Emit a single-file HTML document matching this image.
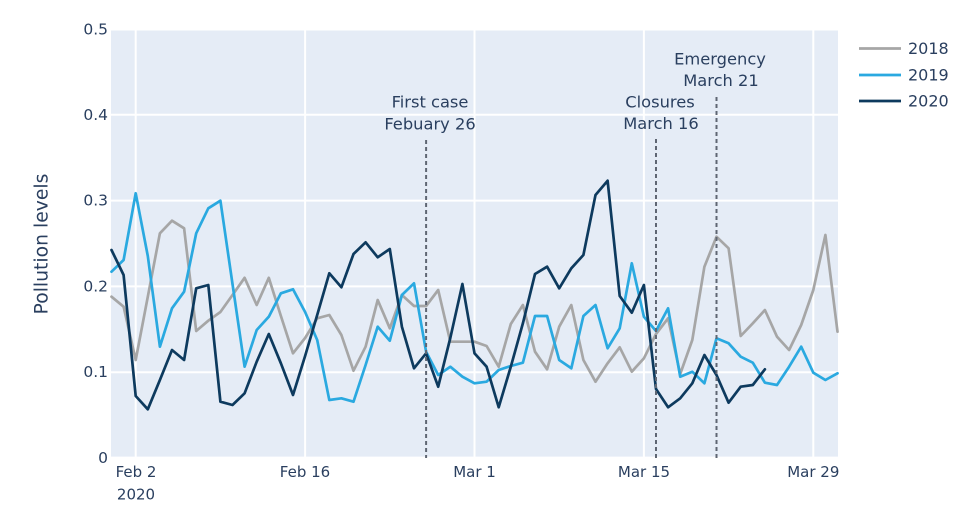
<!DOCTYPE html>
<html>
<head>
<meta charset="utf-8">
<style>
html,body{margin:0;padding:0;background:#fff;}
svg{display:block;}
text{font-family:"DejaVu Sans","Liberation Sans",sans-serif;fill:#2a3f5f;}
</style>
</head>
<body>
<svg width="973" height="505" viewBox="0 0 973 505" xmlns="http://www.w3.org/2000/svg">
  <!-- plot background -->
  <rect x="111" y="29" width="727" height="429.5" fill="#e5ecf6"/>
  <!-- horizontal grid -->
  <g stroke="#ffffff" stroke-width="2">
    <line x1="111" x2="838" y1="29.5" y2="29.5"/>
    <line x1="111" x2="838" y1="114.8" y2="114.8"/>
    <line x1="111" x2="838" y1="200.6" y2="200.6"/>
    <line x1="111" x2="838" y1="286.4" y2="286.4"/>
    <line x1="111" x2="838" y1="372.2" y2="372.2"/>
  </g>
  <!-- vertical grid -->
  <g stroke="#ffffff" stroke-width="2">
    <line x1="135.7" x2="135.7" y1="29" y2="458"/>
    <line x1="305.1" x2="305.1" y1="29" y2="458"/>
    <line x1="474.5" x2="474.5" y1="29" y2="458"/>
    <line x1="643.9" x2="643.9" y1="29" y2="458"/>
    <line x1="813.3" x2="813.3" y1="29" y2="458"/>
  </g>
  <line x1="111" x2="838" y1="458" y2="458" stroke="#ffffff" stroke-width="2.7"/>

  <!-- series -->
  <g fill="none" stroke-width="2.7" stroke-linejoin="round" stroke-linecap="round">
    <polyline stroke="#a6a6a6" points="111.5,296.7 123.6,306.7 135.7,360 147.8,296.7 159.9,233.3 172,220.7 184.1,228.3 196.2,331 208.3,320.7 220.4,312 232.5,295 244.6,277.8 256.7,305 268.8,277.8 280.9,316 293,353.3 305.1,338 317.2,318.3 329.3,315 341.4,335 353.5,370.7 365.6,346.7 377.7,300 389.8,328.3 401.9,295 414,306 426.1,306 438.2,290 450.3,341.7 462.4,341.7 474.5,341.7 486.6,346 498.7,366.7 510.8,324 522.9,305 535,351.7 547.1,369.3 559.2,326.7 571.3,305 583.4,360 595.5,381.7 607.6,363.3 619.7,347.3 631.8,371.7 643.9,358.3 656,334 668.1,318.3 680.2,374 692.3,340 704.4,266.7 716.5,236.7 728.6,248.3 740.7,336 752.8,323.3 764.9,310 777,336.7 789.1,350 801.2,325 813.3,290 825.4,235 837.5,331.7"/>
    <polyline stroke="#2aa9e0" points="111.5,271.7 123.6,260 135.7,193.3 147.8,256 159.9,346.7 172,308.3 184.1,291.7 196.2,233.3 208.3,208.3 220.4,200.7 232.5,284 244.6,366.7 256.7,330 268.8,316.7 280.9,293.3 293,289.3 305.1,312 317.2,340 329.3,400 341.4,398.3 353.5,401.7 365.6,365 377.7,326.7 389.8,340.7 401.9,295 414,283.3 426.1,351.7 438.2,375 450.3,366.7 462.4,376.7 474.5,383.3 486.6,381.7 498.7,370 510.8,366 522.9,362.7 535,316 547.1,316 559.2,360 571.3,368.3 583.4,316 595.5,305 607.6,348.3 619.7,328.3 631.8,263.3 643.9,316.7 656,331 668.1,308.3 680.2,376.7 692.3,371.7 704.4,383.3 716.5,338.3 728.6,343.3 740.7,356.7 752.8,362.7 764.9,382.7 777,385 789.1,366.7 801.2,346.7 813.3,372.7 825.4,380 837.5,373.3"/>
    <polyline stroke="#0d3a5e" points="111.5,250 123.6,275 135.7,396 147.8,409.3 159.9,380 172,350 184.1,360 196.2,288.3 208.3,285 220.4,401.7 232.5,405 244.6,393.3 256.7,361.7 268.8,334 280.9,363.3 293,395 305.1,356 317.2,315 329.3,273.3 341.4,287.3 353.5,254 365.6,242.3 377.7,257.3 389.8,249 401.9,326.7 414,368.3 426.1,353.3 438.2,386.7 450.3,338 462.4,284 474.5,353.3 486.6,366.7 498.7,407.3 510.8,366.7 522.9,323.3 535,274 547.1,266.7 559.2,288.3 571.3,268.3 583.4,255 595.5,195 607.6,180.7 619.7,296 631.8,312.7 643.9,285 656,389 668.1,407.3 680.2,398.3 692.3,383.3 704.4,355 716.5,375 728.6,402.7 740.7,386.7 752.8,385 764.9,369.3"/>
  </g>

  <!-- event lines -->
  <g stroke="#5f6673" stroke-width="2" stroke-dasharray="4,3">
    <line x1="426.1" x2="426.1" y1="140" y2="458"/>
    <line x1="656" x2="656" y1="139" y2="458"/>
    <line x1="716.5" x2="716.5" y1="97" y2="458"/>
  </g>

  <!-- annotations -->
  <g font-size="16.3" text-anchor="middle" dominant-baseline="central">
    <text x="430" y="102">First case</text>
    <text x="430" y="124">Febuary 26</text>
    <text x="660" y="102">Closures</text>
    <text x="661" y="123.5">March 16</text>
    <text x="720" y="59">Emergency</text>
    <text x="721" y="80.5">March 21</text>
  </g>

  <!-- y tick labels -->
  <g font-size="15.5" text-anchor="end" dominant-baseline="central">
    <text x="108" y="29.5">0.5</text>
    <text x="108" y="114.8">0.4</text>
    <text x="108" y="200.6">0.3</text>
    <text x="108" y="286.4">0.2</text>
    <text x="108" y="372.2">0.1</text>
    <text x="108" y="458">0</text>
  </g>

  <!-- x tick labels -->
  <g font-size="15" text-anchor="middle" dominant-baseline="central">
    <text x="136" y="472">Feb 2</text>
    <text x="136" y="494.5">2020</text>
    <text x="305" y="472">Feb 16</text>
    <text x="474.5" y="472">Mar 1</text>
    <text x="644" y="472">Mar 15</text>
    <text x="813.3" y="472">Mar 29</text>
  </g>

  <!-- y axis title -->
  <text x="42" y="244" font-size="18.8" text-anchor="middle" dominant-baseline="central" transform="rotate(-90 42 244)">Pollution levels</text>

  <!-- legend -->
  <g stroke-width="2.7" fill="none">
    <line x1="859" x2="901" y1="48.5" y2="48.5" stroke="#a6a6a6"/>
    <line x1="859" x2="901" y1="75" y2="75" stroke="#2aa9e0"/>
    <line x1="859" x2="901" y1="101" y2="101" stroke="#0d3a5e"/>
  </g>
  <g font-size="16" dominant-baseline="central">
    <text x="908" y="48.5">2018</text>
    <text x="908" y="75">2019</text>
    <text x="908" y="101">2020</text>
  </g>
</svg>
</body>
</html>
